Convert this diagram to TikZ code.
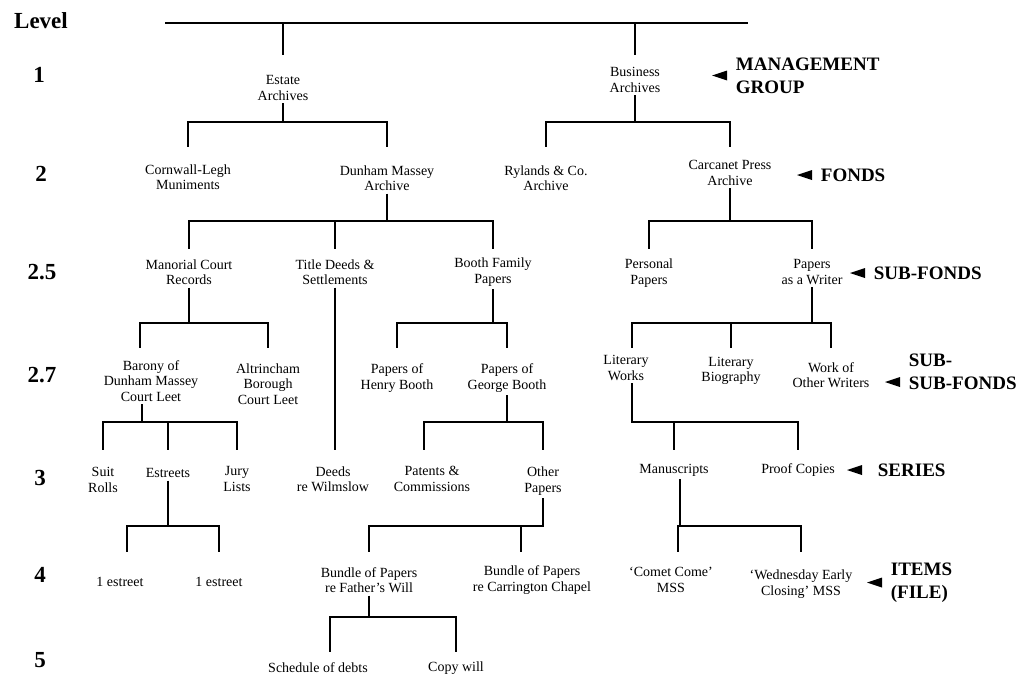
\documentclass[tikz,border=0pt]{standalone}
\usepackage{fontspec}
\setmainfont{Liberation Serif}

\begin{document}
\begin{tikzpicture}[x=1pt, y=1pt, line width=1.8pt,
    rec/.style={align=center, inner sep=2pt, font=\fontsize{14}{15.5}\selectfont},
    lvl/.style={inner sep=0pt, font=\fontsize{23}{24}\selectfont\bfseries},
    tag/.style={anchor=west, align=left, inner sep=0pt, font=\fontsize{19}{23}\selectfont\bfseries}]
  \useasboundingbox (0,0) rectangle (1030,-683);

  \node[lvl] (level) at (41,-21) {Level};
  \node[lvl] (lv1) at (39,-75) {1};
  \node[lvl] (lv2) at (41,-174) {2};
  \node[lvl] (lv25) at (42,-272) {2.5};
  \node[lvl] (lv27) at (42,-375) {2.7};
  \node[lvl] (lv3) at (40,-478) {3};
  \node[lvl] (lv4) at (40,-575) {4};
  \node[lvl] (lv5) at (40,-660) {5};

  \node[rec] (estate) at (283,-88) {Estate\\Archives};
  \node[rec] (business) at (635,-80) {Business\\Archives};

  \node[rec] (cornwall) at (188,-177) {Cornwall-Legh\\Muniments};
  \node[rec] (dunham) at (387,-178) {Dunham Massey\\Archive};
  \node[rec] (rylands) at (546,-178) {Rylands \& Co.\\Archive};
  \node[rec] (carcanet) at (730,-173) {Carcanet Press\\Archive};

  \node[rec] (manorial) at (189,-272) {Manorial Court\\Records};
  \node[rec] (titledeeds) at (335,-272) {Title Deeds \&\\Settlements};
  \node[rec] (boothfam) at (493,-272) {Booth Family\\Papers};
  \node[rec] (personal) at (649,-273) {Personal\\Papers};
  \node[rec] (writer) at (812,-272) {Papers\\as a Writer};

  \node[rec] (barony) at (151,-381) {Barony of\\Dunham Massey\\Court Leet};
  \node[rec] (altrincham) at (268,-384) {Altrincham\\Borough\\Court Leet};
  \node[rec] (henry) at (397,-378) {Papers of\\Henry Booth};
  \node[rec] (george) at (507,-378) {Papers of\\George Booth};
  \node[rec] (litworks) at (626,-368) {Literary\\Works};
  \node[rec] (litbio) at (731,-371) {Literary\\Biography};
  \node[rec] (otherwriters) at (831,-375) {Work of\\Other Writers};

  \node[rec] (suit) at (103,-480) {Suit\\Rolls};
  \node[rec] (estreets) at (168,-473) {Estreets};
  \node[rec] (jury) at (237,-479) {Jury\\Lists};
  \node[rec] (deeds) at (333,-479) {Deeds\\re Wilmslow};
  \node[rec] (patents) at (432,-479) {Patents \&\\Commissions};
  \node[rec] (otherpapers) at (543,-481) {Other\\Papers};
  \node[rec] (manuscripts) at (674,-470) {Manuscripts};
  \node[rec] (proof) at (798,-470) {Proof Copies};

  \node[rec] (estreetA) at (120,-582) {1 estreet};
  \node[rec] (estreetB) at (219,-582) {1 estreet};
  \node[rec] (fatherwill) at (369,-580) {Bundle of Papers\\re Father's Will};
  \node[rec] (carrington) at (532,-580) {Bundle of Papers\\re Carrington Chapel};
  \node[rec] (comet) at (671,-580) {`Comet Come'\\MSS};
  \node[rec] (wednesday) at (801,-584) {`Wednesday Early\\Closing' MSS};

  \node[rec] (schedule) at (318,-668) {Schedule of debts};
  \node[rec] (copywill) at (456,-668) {Copy will};

  \node[tag] (mgmt) at (735,-75.5) {MANAGEMENT\\GROUP};
  \node[tag] (fonds) at (820,-175) {FONDS};
  \node[tag] (subfonds) at (873,-273) {SUB-FONDS};
  \node[tag] (subsub) at (908,-372) {SUB-\\SUB-FONDS};
  \node[tag] (series) at (877,-470) {SERIES};
  \node[tag] (items) at (890,-582.5) {ITEMS\\(FILE)};

  \foreach \t/\d in {mgmt/8, fonds/8, subfonds/8, series/15, items/8}
    \fill ([xshift=-\d, yshift=5]\t.west) -- ++(-15,-5) -- ++(15,-5) -- cycle;
  \fill ([xshift=-8, yshift=-5]subsub.west) -- ++(-15,-5) -- ++(15,-5) -- cycle;

  \coordinate (topL) at (165,-23);
  \coordinate (topR) at (748,-23);
  \coordinate (b1) at (0,-122);
  \coordinate (b2) at (0,-221);
  \coordinate (b3) at (0,-323);
  \coordinate (b4) at (0,-422);
  \coordinate (b5) at (0,-526);
  \coordinate (b6) at (0,-617);
  \coordinate (t1) at (0,-55);
  \coordinate (t2) at (0,-147);
  \coordinate (t3) at (0,-249);
  \coordinate (t4) at (0,-348);
  \coordinate (t5) at (0,-450);
  \coordinate (t6) at (0,-552);
  \coordinate (t7) at (0,-652);

  \draw (topL) -- (topR);
  \foreach \c in {estate,business}
    \draw (\c |- topL) -- (\c |- t1);

  \draw (estate.south) -- (estate.south |- b1) -| (cornwall |- t2);
  \draw (estate.south |- b1) -| (dunham |- t2);
  \draw (business.south) -- (business.south |- b1) -| (rylands |- t2);
  \draw (business.south |- b1) -| (carcanet |- t2);

  \draw (dunham.south) -- (dunham.south |- b2) -| (manorial |- t3);
  \foreach \c in {titledeeds,boothfam}
    \draw (dunham.south |- b2) -| (\c |- t3);
  \draw (carcanet.south) -- (carcanet.south |- b2) -| (personal |- t3);
  \draw (carcanet.south |- b2) -| (writer |- t3);

  \draw (manorial.south) -- (manorial.south |- b3) -| ([xshift=-11]barony |- t4);
  \draw (manorial.south |- b3) -| (altrincham |- t4);
  \draw (titledeeds.south) -- (titledeeds |- t5);
  \draw (boothfam.south) -- (boothfam.south |- b3) -| (henry |- t4);
  \draw (boothfam.south |- b3) -| (george |- t4);
  \draw (writer.south) -- (writer.south |- b3) -| ([xshift=6]litworks |- t4);
  \foreach \c in {litbio,otherwriters}
    \draw (writer.south |- b3) -| (\c |- t4);

  \draw ([xshift=-9]barony.south) -- ([xshift=-9]barony.south |- b4) -| (suit |- t5);
  \foreach \c in {estreets,jury}
    \draw ([xshift=-9]barony.south |- b4) -| (\c |- t5);
  \draw (george.south) -- (george.south |- b4) -| ([xshift=-8]patents |- t5);
  \draw (george.south |- b4) -| (otherpapers |- t5);
  \draw ([xshift=6]litworks.south) -- ([xshift=6]litworks.south |- b4) -| (manuscripts |- t5);
  \draw ([xshift=6]litworks.south |- b4) -| (proof |- t5);

  \draw (estreets.south) -- (estreets.south |- b5) -| ([xshift=7]estreetA |- t6);
  \draw (estreets.south |- b5) -| (estreetB |- t6);
  \draw (otherpapers.south) -- (otherpapers.south |- b5) -| (fatherwill |- t6);
  \draw (otherpapers.south |- b5) -| ([xshift=-11]carrington |- t6);
  \draw ([xshift=6]manuscripts.south) -- ([xshift=6]manuscripts.south |- b5) -| ([xshift=7]comet |- t6);
  \draw ([xshift=6]manuscripts.south |- b5) -| (wednesday |- t6);

  \draw (fatherwill.south) -- (fatherwill.south |- b6) -| ([xshift=12]schedule |- t7);
  \draw (fatherwill.south |- b6) -| (copywill |- t7);
\end{tikzpicture}
\end{document}
